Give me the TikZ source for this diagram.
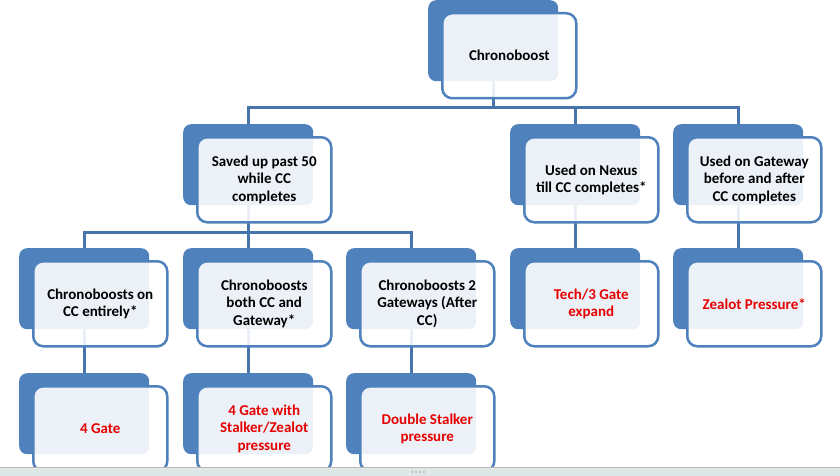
\documentclass[tikz,border=0pt]{standalone}
\usepackage{fontspec}
\setmainfont{Carlito}
\usetikzlibrary{backgrounds}
\definecolor{accent}{HTML}{4F81BD}
\definecolor{linec}{HTML}{4674AB}
\definecolor{redtxt}{HTML}{E60000}
\definecolor{bandc}{HTML}{DDE8E6}
\begin{document}
\begin{tikzpicture}[x=1pt,y=-1pt,
  back/.style={fill=accent, rounded corners=8pt, minimum width=130pt, minimum height=81pt, inner sep=0pt, anchor=north west},
  front/.style={fill=white, fill opacity=0.89, text opacity=1, draw=accent, line width=2.5pt, rounded corners=10pt, minimum width=134pt, minimum height=85pt, inner sep=2pt, anchor=north west, align=center, font=\bfseries\fontsize{15}{17.5}\selectfont},
  redt/.style={text=redtxt},
  conn/.style={draw=linec, line width=3pt}]
\useasboundingbox (0,0) rectangle (840,476);
% level 1
\node[back] (b0) at (428,0) {};
\node[front] (f0) at (441,12) {Chronoboost};
% level 2
\node[back] (b21) at (183,124) {};
\node[front] (f21) at (196,136) {Saved up past 50\\while CC\\completes};
\node[back] (b22) at (510,124) {};
\node[front] (f22) at (523,136) {Used on Nexus\\till CC completes*};
\node[back] (b23) at (673,124) {};
\node[front] (f23) at (686,136) {Used on Gateway\\before and after\\CC completes};
% level 3
\node[back] (b31) at (19,248) {};
\node[front] (f31) at (32,260) {Chronoboosts on\\CC entirely*};
\node[back] (b32) at (183,248) {};
\node[front] (f32) at (196,260) {Chronoboosts\\both CC and\\Gateway*};
\node[back] (b33) at (346,248) {};
\node[front] (f33) at (359,260) {Chronoboosts 2\\Gateways (After\\CC)};
\node[back] (b34) at (510,248) {};
\node[front,redt] (f34) at (523,260) {Tech/3 Gate\\expand};
\node[back] (b35) at (673,248) {};
\node[front,redt] (f35) at (686,260) {Zealot Pressure*};
% level 4
\node[back] (b41) at (19,373) {};
\node[front,redt] (f41) at (32,385) {4 Gate};
\node[back] (b42) at (183,373) {};
\node[front,redt] (f42) at (196,385) {4 Gate with\\Stalker/Zealot\\pressure};
\node[back] (b43) at (346,373) {};
\node[front,redt] (f43) at (359,385) {Double Stalker\\pressure};
\coordinate (bus1) at (0,108);
\coordinate (bus2) at (0,232);
\begin{pgfonlayer}{background}
  \fill[white] (0,0) rectangle (840,476);
  \draw[conn] (b0.south) -- (b0.south |- bus1);
  \draw[conn] (b21.north) |- (bus1 -| b23.north) -- (b23.north);
  \draw[conn] (b22.north) -- (b22.north |- bus1);
  \draw[conn] (b21.south) -- (b21.south |- bus2);
  \draw[conn] (b31.north) |- (bus2 -| b33.north) -- (b33.north);
  \draw[conn] (b32.north) -- (b32.north |- bus2);
  \draw[conn] (b22.south) -- (b34.north);
  \draw[conn] (b23.south) -- (b35.north);
  \draw[conn] (b31.south) -- (b41.north);
  \draw[conn] (b32.south) -- (b42.north);
  \draw[conn] (b33.south) -- (b43.north);
\end{pgfonlayer}
% bottom window band
\fill[bandc] (0,468) rectangle (840,476);
\draw[gray!55, line width=1pt] (0,467) -- (840,467);
\foreach \dx in {412,416,420,424} \fill[gray!70] (\dx,472) circle (0.8);
\end{tikzpicture}
\end{document}
